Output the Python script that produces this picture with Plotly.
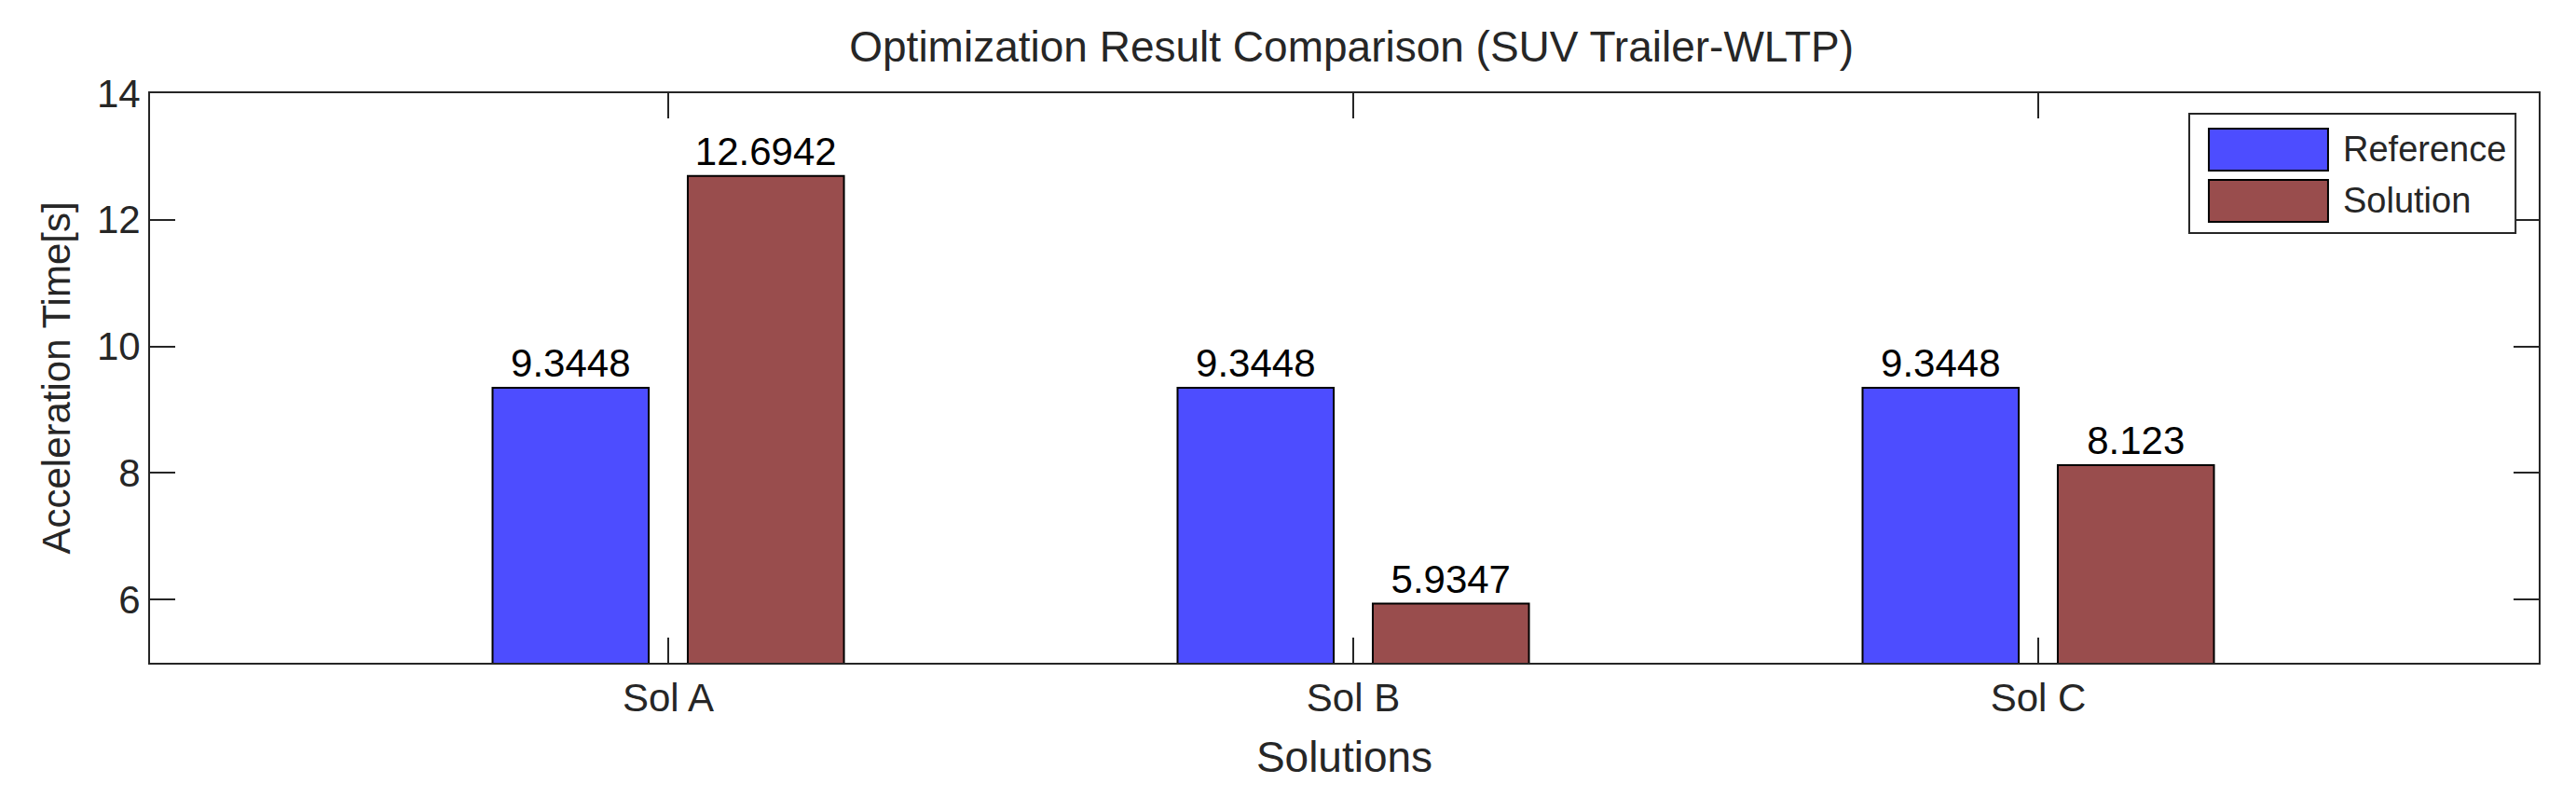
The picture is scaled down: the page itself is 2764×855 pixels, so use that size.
import plotly.graph_objects as go

# dados do gráfico
solucoes = ['Sol A', 'Sol B', 'Sol C']
referencia = [9.3448, 9.3448, 9.3448]
solucao = [12.6942, 5.9347, 8.123]
nomes_series = ['Reference', 'Solution']

COR_REF = 'rgb(77,77,255)'
COR_SOL = 'rgb(153,77,77)'
COR_EIXO = '#262626'
FONTE = 'Liberation Sans, Arial, Helvetica, sans-serif'

fig = go.Figure()

for nome, valores, cor in [(nomes_series[0], referencia, COR_REF),
                           (nomes_series[1], solucao, COR_SOL)]:
    fig.add_trace(go.Bar(
        x=solucoes, y=valores, name=nome,
        marker=dict(color=cor, line=dict(color='black', width=2)),
        text=[f'{v:g}' for v in valores], textposition='outside',
        constraintext='none', cliponaxis=False,
        textfont=dict(size=42, color='black', family=FONTE),
        showlegend=False,
    ))

# eixos no estilo MATLAB (caixa fechada, ticks para dentro)
eixo = dict(showline=True, mirror='allticks', linecolor=COR_EIXO, linewidth=2,
            ticks='inside', ticklen=27, tickwidth=2, tickcolor=COR_EIXO,
            showgrid=False, zeroline=False,
            tickfont=dict(size=42, color=COR_EIXO, family=FONTE))

fig.update_xaxes(**eixo, range=[-0.7565, 2.7306],
                 title=dict(text='Solutions', standoff=24,
                            font=dict(size=46, color=COR_EIXO, family=FONTE)))
fig.update_yaxes(**eixo, range=[5, 14], tickvals=[6, 8, 10, 12, 14],
                 title=dict(text='Acceleration Time[s]', standoff=15,
                            font=dict(size=42, color=COR_EIXO, family=FONTE)))

# legenda desenhada à mão (caixa + amostras grandes como no original)
fig.add_shape(type='rect', xref='paper', yref='paper', x0=0.8537, x1=0.9903, y0=0.7545, y1=0.9640,
              line=dict(color=COR_EIXO, width=2), fillcolor='white', layer='above')
amostras = [(COR_REF, 0.8642, 0.9378, 0.9018), (COR_SOL, 0.7741, 0.8478, 0.8118)]
for nome, (cor, ya, yb, yt) in zip(nomes_series, amostras):
    fig.add_shape(type='rect', xref='paper', yref='paper', x0=0.8619, x1=0.9118, y0=ya, y1=yb,
                  line=dict(color='black', width=2), fillcolor=cor, layer='above')
    fig.add_annotation(text=nome, xref='paper', yref='paper', x=0.9173, y=yt,
                       xanchor='left', yanchor='middle', showarrow=False,
                       font=dict(size=38, color=COR_EIXO, family=FONTE))

fig.update_layout(
    width=2764, height=855,
    title=dict(text='Optimization Result Comparison (SUV Trailer-WLTP)',
               x=0.503, xref='paper', y=1 - 42 / 855, yref='container',
               xanchor='center', yanchor='middle',
               font=dict(size=46, color=COR_EIXO, family=FONTE)),
    barmode='group', bargap=0.43, bargroupgap=0.2,
    margin=dict(l=153, r=48, t=92, b=152, autoexpand=False),
    plot_bgcolor='white', paper_bgcolor='white',
)

fig.write_html('out.html')
